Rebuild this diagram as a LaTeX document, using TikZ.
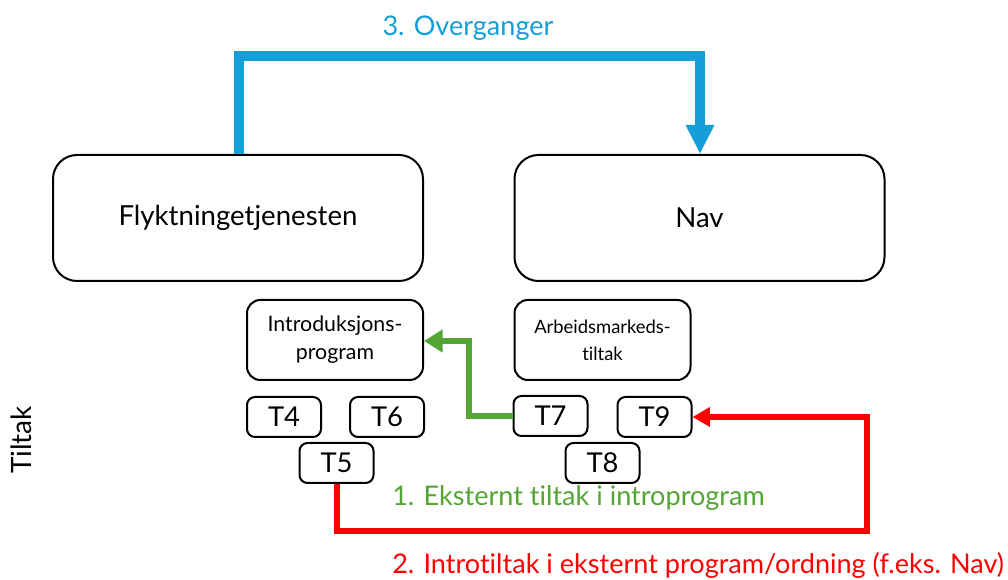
\documentclass[tikz,border=0pt]{standalone}
\usepackage{fontspec}
\setmainfont{Lato}[Ligatures=CommonOff]
\usetikzlibrary{arrows.meta}
\definecolor{cblue}{HTML}{149FD8}
\definecolor{cgreen}{HTML}{53A535}
\definecolor{cred}{HTML}{FF0000}
\begin{document}
\begin{tikzpicture}[x=0.75pt,y=-0.75pt,
  bigbox/.style={draw=black,line width=1.5pt,rounded corners=18pt,minimum width=277.5pt,minimum height=94.5pt,inner sep=0pt,font=\fontsize{20.7}{24}\selectfont},
  midbox/.style={draw=black,line width=1.5pt,rounded corners=10pt,minimum width=132pt,minimum height=60pt,inner sep=0pt,align=center},
  tbox/.style={draw=black,line width=1.5pt,rounded corners=6pt,minimum width=55.5pt,minimum height=30pt,inner sep=0pt,font=\fontsize{20.5}{24}\selectfont},
  conn/.style={line width=4.5pt,line join=miter},
  lbl/.style={inner sep=0pt,font=\fontsize{20.3}{24}\selectfont}]
\useasboundingbox (0,0) rectangle (1008,580);
\node[bigbox] (flykt) at (238,218) {Flyktningetjenesten};
\node[bigbox] (nav) at (699.5,218) {Nav};
\node[midbox,font=\fontsize{16}{21}\selectfont] (intro) at (335,340) {Introduksjons-\\program};
\node[midbox,font=\fontsize{13.8}{20}\selectfont] (arb) at (602.5,340) {Arbeidsmarkeds-\\tiltak};
\node[tbox] (t4) at (284,417) {T4};
\node[tbox] (t6) at (387,417) {T6};
\node[tbox] (t5) at (336.5,463) {T5};
\node[tbox] (t7) at (550.5,416) {T7};
\node[tbox] (t9) at (654.5,417) {T9};
\node[tbox] (t8) at (602.5,463) {T8};
\node[rotate=90,inner sep=0pt,font=\fontsize{21}{24}\selectfont] (tiltak) at (21,440) {Tiltak};
\coordinate (b1) at (239,56);
\coordinate (b2) at (700,56);
\draw[cblue,line width=7.5pt,line join=miter,-{Triangle[length=21.75pt,width=20pt]}] (flykt.north -| b1) -- (b1) -- (b2) -- (nav.north -| b2);
\coordinate (g1) at (469,341);
\draw[cgreen,conn,-{Triangle[length=14pt,width=16.5pt]}] (t7.west) -| (g1) -- (intro.east |- g1);
\coordinate (r1) at (867,531);
\draw[cred,conn,-{Triangle[length=13pt,width=14pt]}] (t5.south) -- (t5.south |- r1) -- (r1) |- (t9.east);
\node[lbl,text=cblue] (l3) at (468,28) {3. Overganger};
\node[lbl,text=cgreen,anchor=west] (l1) at (392,498) {1. Eksternt tiltak i introprogram};
\node[lbl,text=cred,anchor=west] (l2) at (392,565) {2. Introtiltak i eksternt program/ordning (f.eks. Nav)};
\end{tikzpicture}
\end{document}
